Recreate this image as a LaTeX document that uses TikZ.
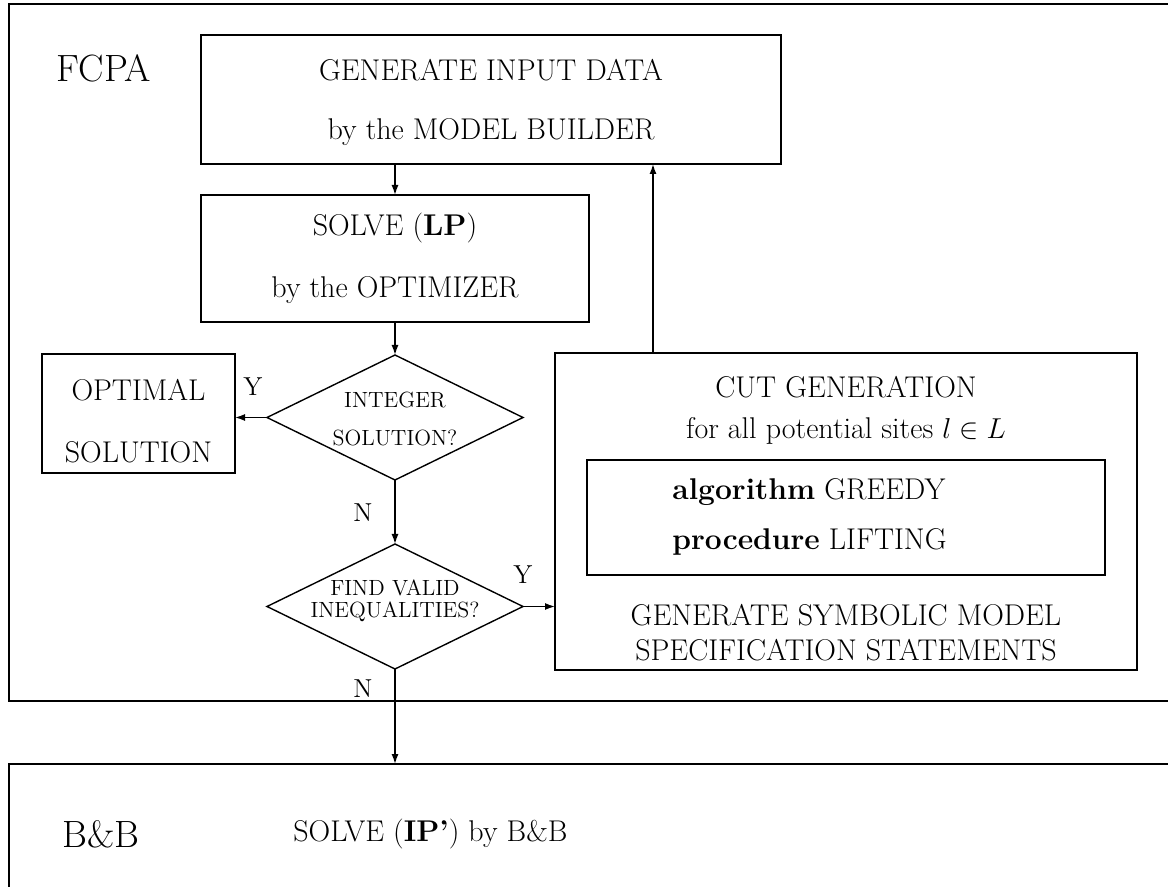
\documentclass[tikz,border=0pt]{standalone}
\usetikzlibrary{shapes.geometric,arrows.meta}
\begin{document}
\begin{tikzpicture}[x=0.5pt,y=-0.5pt,
  box/.style={draw,line width=0.7pt,inner sep=0pt,outer sep=0pt,rectangle},
  dia/.style={draw,line width=0.7pt,diamond,inner sep=0pt,outer sep=0pt,minimum width=128pt,minimum height=62.5pt},
  txt/.style={inner sep=0pt,font=\fontsize{15}{18}\selectfont},
  small/.style={inner sep=0pt,font=\fontsize{11}{13}\selectfont},
  lab/.style={inner sep=0pt,font=\fontsize{13}{15}\selectfont},
  big/.style={inner sep=0pt,font=\fontsize{19}{22}\selectfont},
  arr/.style={draw,line width=0.7pt,-{Latex[length=5pt,width=3.5pt]}},
]
\useasboundingbox (0,0) rectangle (1168,887);
\clip (0,0) rectangle (1168,887);
% frames
\node[box,minimum width=595.5pt,minimum height=348.5pt] (fcpa) at (604.5,352.5) {};
\node[box,minimum width=595.5pt,minimum height=68pt] (bb) at (604.5,832) {};
% boxes
\node[box,minimum width=290pt,minimum height=64.5pt] (top) at (491,99.5) {};
\node[box,minimum width=194pt,minimum height=63.5pt] (solve) at (395,258.5) {};
\node[box,minimum width=96.5pt,minimum height=59.5pt] (opt) at (138.5,413.5) {};
\node[dia] (d1) at (395,417.5) {};
\node[dia] (d2) at (395,606.5) {};
\node[box,minimum width=291pt,minimum height=158.5pt] (cut) at (846,511.5) {};
\node[box,minimum width=259pt,minimum height=57.5pt] (inner) at (846,517.5) {};
% texts
\node[big] (tfcpa) at (104,68) {FCPA};
\node[txt] (t1) at (491,70) {GENERATE INPUT DATA};
\node[txt] (t2) at (491,132) {by the MODEL BUILDER};
\node[txt] (t3) at (395,228) {SOLVE (\textbf{LP})};
\node[txt] (t4) at (395,290) {by the OPTIMIZER};
\node[txt] (t5) at (138.5,390) {OPTIMAL};
\node[txt] (t6) at (138.5,452) {SOLUTION};
\node[small] (t7) at (395,400) {INTEGER};
\node[small] (t8) at (395,438) {SOLUTION?};
\node[small] (t9) at (395,588) {FIND VALID};
\node[small] (t10) at (395,612) {INEQUALITIES?};
\node[lab] (y1) at (253,387) {Y};
\node[lab] (n1) at (363,513) {N};
\node[lab] (y2) at (523,575) {Y};
\node[lab] (n2) at (363,689) {N};
\node[txt] (t11) at (846,387) {CUT GENERATION};
\node[txt] (t12) at (846,431) {for all potential sites $l\in L$};
\node[txt,anchor=west] (t13) at (672,492) {\textbf{algorithm} GREEDY};
\node[txt,anchor=west] (t14) at (672,542) {\textbf{procedure} LIFTING};
\node[txt] (t15) at (846,615) {GENERATE SYMBOLIC MODEL};
\node[txt] (t16) at (846,650) {SPECIFICATION STATEMENTS};
\node[big] (tbb) at (101,834) {B\&B};
\node[txt,anchor=west] (t17) at (293,834) {SOLVE (\textbf{IP'}) by B\&B};
% connectors
\coordinate (up) at (653,353);
\draw[arr] (top.south -| solve.north) -- (solve.north);
\draw[arr] (solve.south) -- (d1.north);
\draw[arr] (d1.west) -- (d1.west -| opt.east);
\draw[arr] (d1.south) -- (d2.north);
\draw[arr] (d2.east) -- (d2.east -| cut.west);
\draw[arr] (d2.south) -- (d2.south |- bb.north);
\draw[arr] (up) -- (up |- top.south);
\end{tikzpicture}
\end{document}
